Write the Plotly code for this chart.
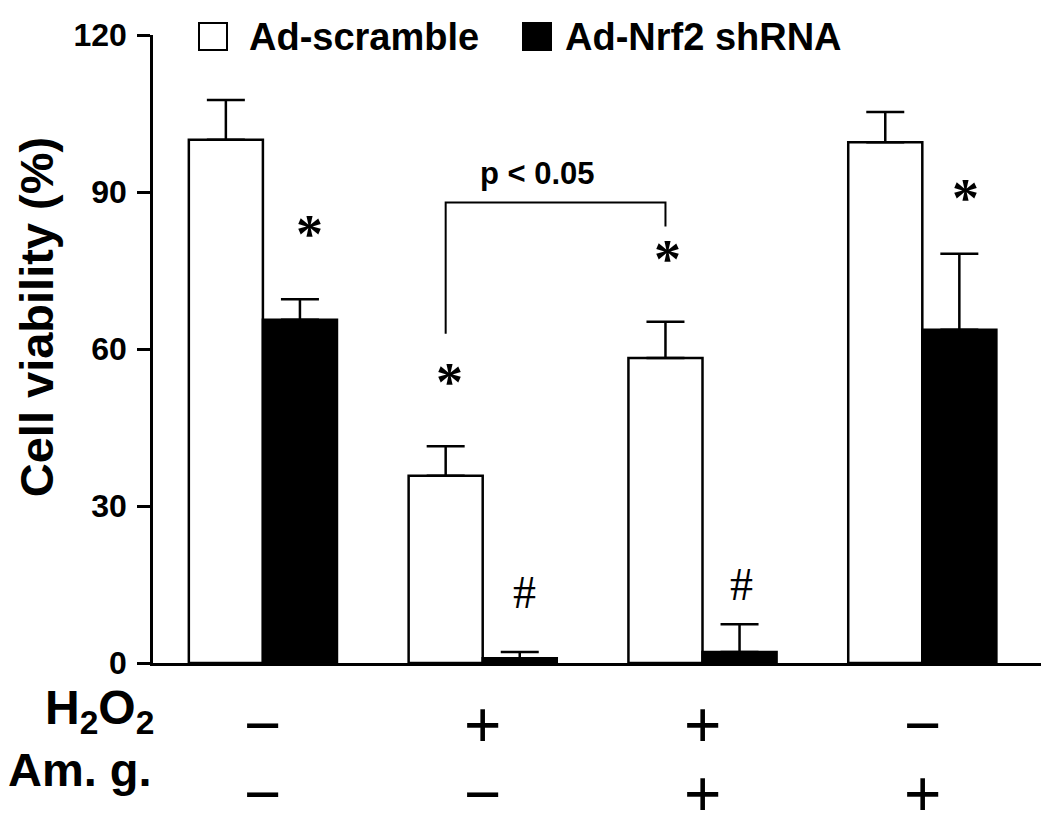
import plotly.graph_objects as go

# ---------------- data ----------------
groups = [0, 1, 2, 3]
group_names = ["Control", "H2O2", "H2O2 + Am. g.", "Am. g."]
scramble = [100.0, 35.8, 58.3, 99.5]
scramble_err = [7.6, 5.6, 6.9, 5.8]
nrf2 = [65.6, 0.9, 2.1, 63.7]
nrf2_err = [3.9, 1.2, 5.3, 14.5]
series_names = ["Ad-scramble", "Ad-Nrf2 shRNA"]

h2o2_signs = ["\u2212", "+", "+", "\u2212"]
amg_signs = ["\u2212", "\u2212", "+", "+"]
yticks = [0, 30, 60, 90, 120]

# significance marks
mark_series = [1, 0, 1, 0, 1, 1]          # 0 = scramble, 1 = nrf2
mark_group = [0, 1, 1, 2, 2, 3]
mark_y = [83.0, 54.6, 13.4, 78.1, 15.0, 89.8]
mark_text = ["*", "*", "#", "*", "#", "*"]

# bracket between scramble bars of group 1 and group 2
bracket_groups = [1, 2]
bracket_leg_y = [62.9, 83.4]
bracket_top = 88.0
p_label = "p < 0.05"
p_x = 1.25
p_y = 93.6

# ---------------- layout constants ----------------
PAGE_OFF = 8                       # default body margin of the html page
W, H = 1050 - PAGE_OFF, 830 - PAGE_OFF
L, R, T, B = 153 - PAGE_OFF, 9, 30 - PAGE_OFF, 167
PW, PH = W - L - R, H - T - B
BARGAP = 0.326
OFF = (1 - BARGAP) / 4
MARK_DX = [10, 4, 5, 2, 2, 6]      # small horizontal nudges of the marks (px)


def px_x(px):
    return (px - PAGE_OFF - L) / PW


def px_y(py):
    return (T + PH - (py - PAGE_OFF)) / PH


SANS = "Liberation Sans, Arial, sans-serif"
SERIF = "Liberation Serif, Times New Roman, serif"

fig = go.Figure()

fig.add_trace(go.Bar(
    x=groups, y=scramble, name=series_names[0], showlegend=False,
    marker=dict(color="white", line=dict(color="black", width=2.5)),
    error_y=dict(type="data", array=scramble_err, arrayminus=[0] * 4,
                 symmetric=False, color="black", thickness=2.5, width=19),
))
fig.add_trace(go.Bar(
    x=groups, y=nrf2, name=series_names[1], showlegend=False,
    marker=dict(color="black", line=dict(color="black", width=2.5)),
    error_y=dict(type="data", array=nrf2_err, arrayminus=[0] * 4,
                 symmetric=False, color="black", thickness=2.5, width=19),
))

# bracket
bx0 = bracket_groups[0] - OFF
bx1 = bracket_groups[1] - OFF
fig.add_trace(go.Scatter(
    x=[bx0, bx0, bx1, bx1],
    y=[bracket_leg_y[0], bracket_top, bracket_top, bracket_leg_y[1]],
    mode="lines", line=dict(color="black", width=2),
    showlegend=False, hoverinfo="skip",
))

annotations = []

# significance marks
for s, g, yv, t, dx in zip(mark_series, mark_group, mark_y, mark_text, MARK_DX):
    xv = g + (OFF if s == 1 else -OFF)
    annotations.append(dict(
        x=xv, y=yv, xref="x", yref="y", text=t, showarrow=False,
        xanchor="center", yanchor="middle", xshift=dx,
        yshift=-5 if t == "*" else 0,
        font=dict(family=SERIF, size=54 if t == "*" else 46, color="black",
                  weight="bold" if t == "*" else "normal"),
    ))

annotations.append(dict(
    x=p_x, y=p_y, xref="x", yref="y", text=p_label, showarrow=False,
    xanchor="center", yanchor="middle",
    font=dict(family=SANS, size=31, color="black", weight="bold"),
))

# axis title
annotations.append(dict(
    x=px_x(36), y=px_y(314.5), xref="paper", yref="paper",
    text="Cell viability (%)", textangle=-90, showarrow=False,
    xanchor="center", yanchor="middle", borderpad=0,
    font=dict(family=SANS, size=47, color="black", weight="bold"),
))

# treatment rows
annotations.append(dict(
    x=px_x(156), y=px_y(711), xref="paper", yref="paper",
    text="H<sub>2</sub>O<sub>2</sub>", showarrow=False,
    xanchor="right", yanchor="middle",
    font=dict(family=SANS, size=48, color="black", weight="bold"),
))
annotations.append(dict(
    x=px_x(154), y=px_y(770), xref="paper", yref="paper",
    text="Am. g.", showarrow=False,
    xanchor="right", yanchor="middle",
    font=dict(family=SANS, size=47, color="black", weight="bold"),
))
for g, s1, s2 in zip(groups, h2o2_signs, amg_signs):
    for s, py in ((s1, 725), (s2, 795)):
        annotations.append(dict(
            x=g, y=px_y(py), xref="x", yref="paper", text=s,
            showarrow=False, xanchor="center", yanchor="middle",
            font=dict(family=SANS, size=64, color="black"),
        ))

# legend (drawn manually to match the large square keys)
legend_sq_x = [199, 523]
legend_txt_x = [247, 563]
legend_fill = ["white", "black"]
shapes = []
for name, sx, tx, fc in zip(series_names, legend_sq_x, legend_txt_x, legend_fill):
    shapes.append(dict(
        type="rect", xref="paper", yref="paper",
        x0=px_x(sx), x1=px_x(sx + 28), y0=px_y(45), y1=px_y(18),
        fillcolor=fc, line=dict(color="black", width=2),
    ))
    annotations.append(dict(
        x=px_x(tx), y=px_y(31.8), xref="paper", yref="paper", text=name,
        showarrow=False, xanchor="left", yanchor="middle",
        font=dict(family=SANS, size=38, color="black", weight="bold"),
    ))

fig.update_layout(
    width=W, height=H,
    margin=dict(l=L, r=R, t=T, b=B, pad=0),
    paper_bgcolor="white", plot_bgcolor="white",
    barmode="group", bargap=BARGAP, bargroupgap=0,
    showlegend=False,
    annotations=annotations, shapes=shapes,
    font=dict(family=SANS, color="black"),
)
fig.update_xaxes(
    range=[-0.5, 3.54], showline=True, linecolor="black", linewidth=2.5,
    showticklabels=False, ticks="", showgrid=False, zeroline=False,
)
fig.update_yaxes(
    range=[0, 120], tickvals=yticks, ticktext=[str(v) for v in yticks],
    showline=True, linecolor="black", linewidth=2.5,
    ticks="outside", ticklen=13, tickwidth=2.5, tickcolor="black",
    ticklabelstandoff=4,
    tickfont=dict(family=SANS, size=32, color="black", weight="bold"),
    showgrid=False, zeroline=False,
)

fig.write_html("out.html")
